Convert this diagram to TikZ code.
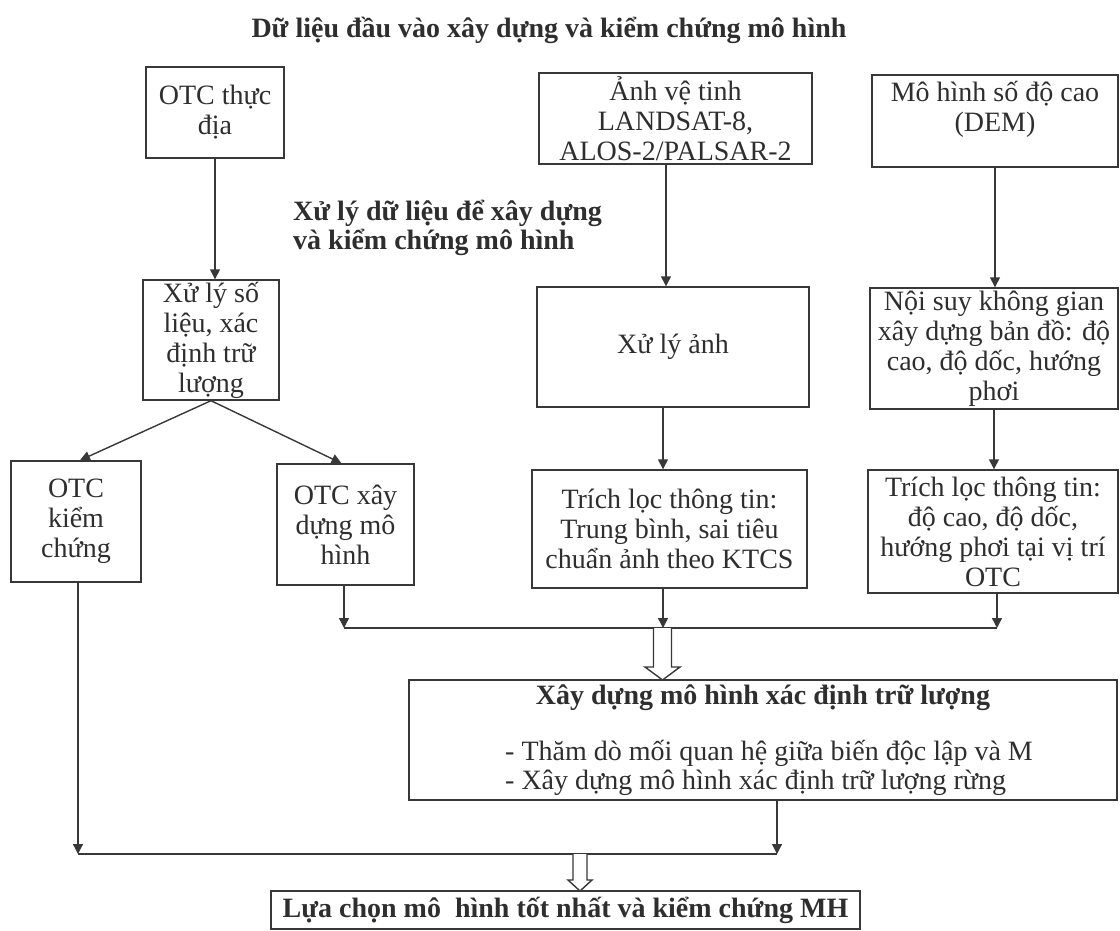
\documentclass[tikz,border=0pt]{standalone}
\usepackage{fontspec}
\setmainfont{Liberation Serif}
\usetikzlibrary{arrows.meta}
\begin{document}
\begin{tikzpicture}[x=1pt,y=-1pt,
  bx/.style={draw=black!78, line width=1.4pt, align=center, inner sep=0pt, text=black!82, font=\fontsize{28}{30}\selectfont},
  txt/.style={inner sep=0pt, text=black!82, font=\fontsize{28}{30}\selectfont},
  bold/.style={inner sep=0pt, text=black!82, font=\fontsize{28}{30}\selectfont\bfseries},
  arr/.style={draw=black!78, line width=1.4pt, -{Triangle[width=10pt,length=10pt]}},
  ln/.style={draw=black!78, line width=1.4pt}]
\useasboundingbox (0,0) rectangle (1120,931);

% title and label
\node[bold, anchor=base] (T) at (549,38) {Dữ liệu đầu vào xây dựng và kiểm chứng mô hình};
\node[bold, anchor=base west] (P1) at (293,220) {Xử lý dữ liệu để xây dựng};
\node[bold, anchor=base west] (P2) at (293,249) {và kiểm chứng mô hình};

% boxes
\node[bx, minimum width=138pt, minimum height=91pt] (A) at (215,112.5) {OTC thực\\địa};
\node[bx, minimum width=273pt, minimum height=91pt] (B) at (675.5,118.5) {Ảnh vệ tinh\\LANDSAT-8,\\ALOS-2/PALSAR-2};
\node[bx, minimum width=246pt, minimum height=92pt] (C) at (995,121) {Mô hình số độ cao\\(DEM)\\~};
\node[bx, minimum width=136pt, minimum height=120pt] (D) at (211,340) {Xử lý số\\liệu, xác\\định trữ\\lượng};
\node[bx, minimum width=272pt, minimum height=120pt] (E) at (673,347) {Xử lý ảnh};
\node[bx, minimum width=248pt, minimum height=121pt] (F) at (994,348.5) {Nội suy không gian\\xây dựng bản đồ: độ\\cao, độ dốc, hướng\\phơi};
\node[bx, minimum width=130pt, minimum height=121pt] (G) at (76,521.5) {OTC\\kiểm\\chứng};
\node[bx, minimum width=137pt, minimum height=121pt] (H) at (345.5,524.5) {OTC xây\\dựng mô\\hình};
\node[bx, minimum width=275pt, minimum height=118pt] (I) at (669.5,529) {Trích lọc thông tin:\\Trung bình, sai tiêu\\chuẩn ảnh theo KTCS};
\node[bx, minimum width=250pt, minimum height=123pt] (J) at (993,531.5) {Trích lọc thông tin:\\độ cao, độ dốc,\\hướng phơi tại vị trí\\OTC};
\node[bx, minimum width=708pt, minimum height=120pt] (K) at (763,740) {};
\node[bold, anchor=base] (Kt) at (763,704) {Xây dựng mô hình xác định trữ lượng};
\node[txt, anchor=base west] (K1) at (505,760) {- Thăm dò mối quan hệ giữa biến độc lập và M};
\node[txt, anchor=base west] (K2) at (505,789) {- Xây dựng mô hình xác định trữ lượng rừng};
\node[bx, minimum width=589pt, minimum height=38pt] (L) at (565.5,910) {};
\node[bold, anchor=base] (Lt) at (565.5,917) {Lựa chọn mô\ \ hình tốt nhất và kiểm chứng MH};

% connectors
\coordinate (xB) at (666,0);
\coordinate (xE) at (663,0);
\draw[arr] (A.south) -- (A.south |- D.north);
\draw[arr] (B.south -| xB) -- (E.north -| xB);
\draw[arr] (C.south) -- (C.south |- F.north);
\draw[arr] (D.south) -- ([xshift=4pt]G.north);
\draw[arr] (D.south) -- ([xshift=-4pt]H.north);
\draw[arr] (E.south -| xE) -- (I.north -| xE);
\draw[arr] (F.south) -- (F.south |- J.north);

\coordinate (m1) at (344,628);
\coordinate (m2) at (663,628);
\coordinate (m3) at (997,628);
\draw[arr] (H.south -| m1) -- (m1);
\draw[arr] (I.south -| m2) -- (m2);
\draw[arr] (J.south -| m3) -- (m3);
\draw[ln] (m1) -- (m3);
\draw[ln, fill=white, line join=miter] (653.5,628) -- (653.5,667) -- (645,667) -- (662.5,680) -- (680,667) -- (671.5,667) -- (671.5,628);

\coordinate (n1) at (78,854);
\coordinate (n2) at (777,854);
\draw[arr] (G.south -| n1) -- (n1);
\draw[arr] (K.south -| n2) -- (n2);
\draw[ln] (n1) -- (n2);
\draw[ln, fill=white, line join=miter] (573,854) -- (573,880) -- (568,880) -- (580,891) -- (592,880) -- (587,880) -- (587,854);
\end{tikzpicture}
\end{document}
